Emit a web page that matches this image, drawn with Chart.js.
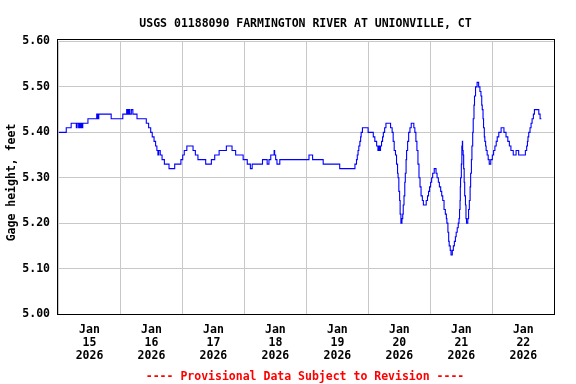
<!DOCTYPE html>
<html><head><meta charset="utf-8">
<script src="https://cdn.jsdelivr.net/npm/chart.js@4.4.0/dist/chart.umd.min.js"></script>
<style>html,body{margin:0;padding:0;background:#fff}canvas{display:block}</style>
</head><body>
<canvas id="c" width="576" height="384" style="width:576px;height:384px"></canvas>
<script>
const chartTitle = 'USGS 01188090 FARMINGTON RIVER AT UNIONVILLE, CT';
const yAxisTitle = 'Gage height, feet';
const footerText = '---- Provisional Data Subject to Revision ----';
const monthLabel = 'Jan';
const yearLabel = '2026';
const dayLabels = ['15', '16', '17', '18', '19', '20', '21', '22'];
const yTicks = [5.00, 5.10, 5.20, 5.30, 5.40, 5.50, 5.60];

// hours since Jan 15 2026 00:00 at which the gage height changes
const hours = [
  0, 3.0, 4.9, 6.9, 7.2, 7.8, 8.1, 8.5, 8.8, 9.0, 9.4, 11.4, 14.8, 15.2, 15.6, 20.4, 24.9,
  26.4, 26.8, 27.2, 27.6, 28.2, 28.8, 30.4, 34.0, 34.9, 35.7, 36.3, 37.0, 37.6, 38.1, 38.5,
  38.8, 39.4, 40.1, 41.0, 42.8, 45.0, 47.4, 48.1, 48.7, 49.7, 52.1, 53.0, 54.0, 57.0, 59.2,
  60.5, 62.2, 65.0, 67.2, 68.6, 71.5, 73.1, 74.3, 75.0, 79.0, 80.8, 81.5, 82.2, 83.5, 83.7,
  84.1, 84.6, 85.7, 97.0, 98.4, 102.5, 108.9, 114.8,
  115.4, 115.7, 116.0, 116.3, 116.7, 117.0, 117.2, 117.7, 119.9, 121.9, 122.5, 123.2, 123.7,
  124.0, 124.4, 124.7, 125.1, 125.5, 125.8, 126.3, 126.8, 128.6, 129.2, 129.6, 130.0, 130.5,
  130.9, 131.3, 131.5, 131.8, 132.1, 132.3, 132.6, 133.0, 133.3, 133.5, 133.8, 134.1, 134.3,
  134.6, 134.8, 135.2, 135.6, 136.1, 136.6, 137.6, 138.0, 138.4, 138.8, 139.2, 139.6, 140.0,
  140.4, 140.9, 141.3, 142.4, 142.9, 143.3, 143.7, 144.1, 144.5, 144.9, 145.5, 146.2, 146.6,
  147.1, 147.5, 148.0, 148.4, 148.8, 149.3, 149.8, 150.2, 150.4, 150.8, 151.1, 151.3, 151.7,
  152.0, 152.5, 152.9, 153.3, 153.7, 154.0, 154.4, 154.8, 155.1, 155.3, 155.5, 155.6, 155.7,
  156.0, 156.2, 156.4, 156.5, 156.7, 156.9, 157.1, 157.3, 157.6, 157.8, 158.0, 158.5, 158.8,
  159.1, 159.4, 159.6, 159.9, 160.1, 160.4, 160.6, 160.9, 161.1, 161.5, 162.1, 162.7, 163.2,
  163.6, 163.9, 164.1, 164.4, 164.6, 164.9, 165.1, 165.4, 165.6, 166.0, 166.4, 166.8, 167.4,
  168.0, 168.5, 169.0, 169.5, 169.9, 170.5, 171.4, 172.5, 173.3, 174.0, 174.6, 175.2, 176.1,
  177.2, 178.2, 180.8, 181.3, 181.6, 181.8, 182.1, 182.6, 183.0, 183.4, 183.9, 184.3, 186.0,
  186.5, 187.0
];
// gage height, feet
const gageHeight = [
  5.40, 5.41, 5.42, 5.41, 5.42, 5.41, 5.42, 5.41, 5.42, 5.41, 5.42, 5.43, 5.44, 5.43, 5.44, 5.43, 5.44,
  5.45, 5.44, 5.45, 5.44, 5.45, 5.44, 5.43, 5.42, 5.41, 5.40, 5.39, 5.38, 5.37, 5.36, 5.35,
  5.36, 5.35, 5.34, 5.33, 5.32, 5.33, 5.34, 5.35, 5.36, 5.37, 5.36, 5.35, 5.34, 5.33, 5.34,
  5.35, 5.36, 5.37, 5.36, 5.35, 5.34, 5.33, 5.32, 5.33, 5.34, 5.33, 5.34, 5.35, 5.36, 5.35,
  5.34, 5.33, 5.34, 5.35, 5.34, 5.33, 5.32, 5.33,
  5.34, 5.35, 5.36, 5.37, 5.38, 5.39, 5.40, 5.41, 5.40, 5.39, 5.38, 5.37, 5.36,
  5.37, 5.36, 5.37, 5.38, 5.39, 5.40, 5.41, 5.42, 5.41, 5.40, 5.38, 5.36, 5.35,
  5.33, 5.31, 5.30, 5.27, 5.25, 5.22, 5.20, 5.21, 5.22, 5.24, 5.26, 5.29, 5.31,
  5.34, 5.36, 5.38, 5.40, 5.41, 5.42, 5.41, 5.40, 5.38, 5.36, 5.33, 5.30, 5.28,
  5.26, 5.25, 5.24, 5.25, 5.26, 5.27, 5.28, 5.29, 5.30, 5.31, 5.32, 5.31, 5.30,
  5.29, 5.28, 5.27, 5.26, 5.25, 5.23, 5.22, 5.21, 5.20, 5.18, 5.16, 5.15, 5.14,
  5.13, 5.14, 5.15, 5.16, 5.17, 5.18, 5.19, 5.20, 5.21, 5.23, 5.25, 5.28, 5.30,
  5.33, 5.37, 5.38, 5.36, 5.35, 5.32, 5.29, 5.26, 5.24, 5.21, 5.20, 5.21, 5.23,
  5.25, 5.28, 5.31, 5.34, 5.37, 5.40, 5.43, 5.46, 5.48, 5.50, 5.51, 5.50, 5.49,
  5.48, 5.46, 5.45, 5.43, 5.41, 5.39, 5.38, 5.37, 5.36, 5.35, 5.34, 5.33, 5.34,
  5.35, 5.36, 5.37, 5.38, 5.39, 5.40, 5.41, 5.40, 5.39, 5.38, 5.37, 5.36, 5.35,
  5.36, 5.35, 5.36, 5.37, 5.38, 5.39, 5.40, 5.41, 5.42, 5.43, 5.44, 5.45, 5.44,
  5.43, 5.43
];

const FONT_FAMILY = '"DejaVu Sans Mono", "Liberation Mono", monospace';
const FONT = 'bold 11.5px ' + FONT_FAMILY;

const decor = {
  id: 'decor',
  beforeDatasetsDraw(chart) {
    const ctx = chart.ctx;
    const a = chart.chartArea;
    ctx.save();
    ctx.strokeStyle = '#000';
    ctx.lineWidth = 1;
    ctx.strokeRect(Math.floor(a.left) - 0.5, Math.floor(a.top) - 1.5,
      Math.round(a.right) - Math.floor(a.left) + 1, Math.round(a.bottom) - Math.floor(a.top) + 2);
    ctx.restore();
  },
  afterDraw(chart) {
    const ctx = chart.ctx;
    ctx.save();
    ctx.font = FONT;
    ctx.textAlign = 'center';
    ctx.textBaseline = 'alphabetic';
    ctx.fillStyle = '#000';
    ctx.fillText(chartTitle, 305.5, 27);
    ctx.fillStyle = '#ff0000';
    ctx.fillText(footerText, 305, 380);
    ctx.fillStyle = '#000';
    ctx.translate(15, 182.5);
    ctx.rotate(-Math.PI / 2);
    ctx.fillText(yAxisTitle, 0, 0);
    ctx.restore();
  }
};

new Chart(document.getElementById('c'), {
  type: 'line',
  data: {
    datasets: [{
      data: hours.map((h, i) => ({ x: h, y: gageHeight[i] })),
      borderColor: '#0000ff',
      borderWidth: 1.1,
      pointRadius: 0,
      fill: false,
      stepped: true,
      tension: 0
    }]
  },
  options: {
    responsive: false,
    animation: false,
    devicePixelRatio: 1,
    layout: { padding: { top: 41.5, right: 21.7, left: 0, bottom: 0 } },
    plugins: { legend: { display: false }, tooltip: { enabled: false }, title: { display: false } },
    scales: {
      x: {
        type: 'linear',
        min: 0,
        max: dayLabels.length * 24,
        afterFit(scale) { scale.height = 70; },
        afterBuildTicks(scale) {
          const t = [];
          for (let i = 0; i <= dayLabels.length * 2; i++) t.push({ value: i * 12 });
          scale.ticks = t;
        },
        border: { display: false },
        grid: {
          drawTicks: false,
          lineWidth: 1,
          color: (c) => (c.tick && c.tick.value % 24 === 0) ? '#c8c8c8' : 'rgba(0,0,0,0)'
        },
        ticks: {
          autoSkip: false,
          maxRotation: 0,
          padding: 10,
          color: '#000',
          font: { family: FONT_FAMILY, size: 11.5, weight: 'bold', lineHeight: 13 / 11.5 },
          callback: (v) => (v % 24 === 12) ? [monthLabel, dayLabels[(v - 12) / 24], yearLabel] : ''
        }
      },
      y: {
        min: yTicks[0],
        max: yTicks[yTicks.length - 1],
        afterFit(scale) { scale.width = 58.5; },
        afterBuildTicks(scale) { scale.ticks = yTicks.map(v => ({ value: v })); },
        border: { display: false },
        grid: { drawTicks: false, color: '#c8c8c8', lineWidth: 1 },
        ticks: {
          padding: 8.5,
          color: '#000',
          font: { family: FONT_FAMILY, size: 11.5, weight: 'bold' },
          callback: (v) => Number(v).toFixed(2)
        }
      }
    }
  },
  plugins: [decor]
});
</script>
</body></html>
